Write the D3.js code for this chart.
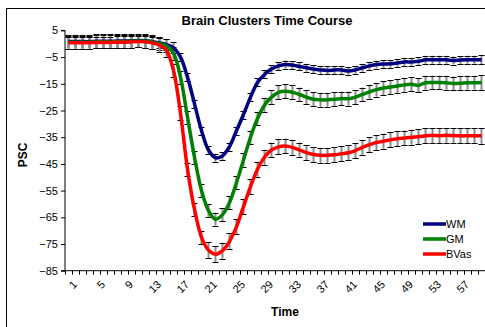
<!DOCTYPE html>
<html lang="en">
<head>
<meta charset="UTF-8">
<script src="https://d3js.org/d3.v7.min.js"></script>
<style>
    body { margin: 0; background: #fff; }
    text { font-family: Arial, "Liberation Sans", sans-serif; }
</style>
<title>Brain Clusters Time Course</title>
</head>
<body>
<div id="chart"></div>
<script>
// time points 1..60
var times = d3.range(1, 61);
var tickLabels = [1, 5, 9, 13, 17, 21, 25, 29, 33, 37, 41, 45, 49, 53, 57];
var yTicks = [5, -5, -15, -25, -35, -45, -55, -65, -75, -85];

var wm = [0.8, 0.8, 0.8, 0.8, 0.9, 0.9, 0.9, 1.0, 1.0, 1.1, 1.2, 1.1,
    0.8, 0.3, -0.3, -1.5, -5.0, -12.5, -22.5, -32.5, -39.8, -42.7, -42.0, -38.5,
    -32.5, -26.5, -20.0, -14.5, -11.5, -9.5, -8.3, -7.8, -8.0, -8.5, -9.0, -9.5,
    -9.8, -10.0, -9.8, -9.8, -10.2, -9.8, -9.0, -8.3, -7.8, -7.6, -7.5, -7.2,
    -6.8, -6.8, -6.6, -6.0, -6.0, -6.0, -6.0, -6.3, -6.1, -6.0, -6.0, -6.0];
var gm = [0.6, 0.6, 0.6, 0.6, 0.7, 0.7, 0.7, 0.8, 0.8, 0.9, 1.0, 0.9,
    0.6, 0.0, -0.8, -3.5, -12.5, -27.5, -42.5, -55.0, -62.5, -65.7, -64.0, -59.5,
    -52.0, -43.5, -35.0, -28.0, -23.0, -20.0, -18.2, -17.8, -18.2, -19.0, -20.0, -20.8,
    -21.0, -21.0, -20.8, -20.5, -20.6, -20.0, -19.0, -18.0, -17.2, -16.6, -16.2, -15.8,
    -15.4, -15.2, -15.6, -14.6, -14.5, -14.5, -14.6, -14.9, -14.8, -14.6, -14.6, -14.5];
var bvas = [0.4, 0.4, 0.4, 0.4, 0.5, 0.5, 0.5, 0.6, 0.6, 0.7, 0.8, 0.7,
    0.3, -0.5, -2.5, -10.0, -26.0, -47.0, -62.0, -72.5, -77.3, -78.8, -77.5, -74.0,
    -68.5, -61.0, -53.5, -47.0, -42.5, -39.8, -38.6, -38.3, -38.8, -39.8, -40.8, -41.5,
    -41.8, -41.8, -41.6, -41.2, -40.8, -40.0, -38.8, -37.8, -37.0, -36.5, -36.0, -35.6,
    -35.3, -35.0, -34.8, -34.5, -34.3, -34.5, -34.3, -34.4, -34.5, -34.5, -34.5, -34.5];

// standard errors
var wmErr = [2.6, 2.6, 2.6, 2.6, 2.6, 2.6, 2.6, 2.6, 2.6, 2.6, 2.6, 2.6,
    2.6, 2.0, 2.0, 2.0, 1.6, 1.6, 1.6, 1.5, 1.5, 1.5, 1.5, 1.5,
    1.5, 1.5, 1.5, 1.5, 1.5, 1.5, 1.5, 1.5, 1.5, 1.5, 1.5, 1.5,
    1.5, 1.5, 1.5, 1.5, 1.5, 1.5, 1.5, 1.5, 1.5, 1.5, 1.5, 1.5,
    1.5, 1.5, 1.5, 1.5, 1.5, 1.5, 1.5, 1.5, 1.5, 1.5, 1.5, 1.6];
var gmErr = [2.4, 2.4, 2.4, 2.4, 2.4, 2.4, 2.4, 2.4, 2.4, 2.4, 2.4, 2.4,
    2.4, 2.4, 2.4, 2.4, 2.4, 2.4, 2.4, 2.4, 2.4, 2.4, 2.4, 2.4,
    2.5, 2.5, 2.5, 2.5, 2.5, 2.6, 2.6, 2.6, 2.6, 2.6, 2.6, 2.6,
    2.6, 2.6, 2.6, 2.6, 2.6, 2.6, 2.6, 2.6, 2.6, 2.6, 2.6, 2.6,
    2.6, 2.6, 2.6, 2.6, 2.6, 2.6, 2.6, 2.6, 2.6, 2.6, 2.6, 2.8];
var bvasErr = [2.2, 2.2, 2.2, 2.2, 2.2, 2.2, 2.2, 2.2, 2.2, 2.2, 2.2, 2.2,
    2.2, 2.5, 2.5, 2.5, 2.5, 2.5, 2.5, 2.5, 3.0, 3.0, 3.0, 3.0,
    2.8, 2.8, 2.8, 2.8, 2.8, 2.8, 2.8, 2.8, 2.8, 2.8, 2.8, 2.8,
    2.8, 2.8, 2.8, 2.8, 2.8, 2.8, 2.8, 2.8, 2.8, 2.8, 2.8, 2.8,
    2.8, 2.8, 2.8, 2.8, 2.8, 2.8, 2.8, 2.8, 2.8, 2.8, 2.8, 3.0];

var series = [
    {name: "WM", values: wm, err: wmErr, color: "#000080"},
    {name: "GM", values: gm, err: gmErr, color: "#008000"},
    {name: "BVas", values: bvas, err: bvasErr, color: "#ff0000"}
];

var width = 485, height = 327;
var plot = {left: 65, right: 485, top: 30.4, bottom: 270.7};

var svg = d3.select("#chart").append("svg")
    .attr("width", width)
    .attr("height", height);

// outer chart border
svg.append("rect")
    .attr("x", 6.5).attr("y", 8.5)
    .attr("width", 600).attr("height", 400)
    .attr("fill", "#fff")
    .attr("stroke", "#000")
    .attr("stroke-width", 1);

var x = d3.scaleBand()
    .domain(times)
    .range([plot.left, plot.right]);

var y = d3.scaleLinear()
    .domain([-85, 5])
    .range([plot.bottom, plot.top]);

function cx(t) { return x(t) + x.bandwidth() / 2; }

// title
svg.append("text")
    .attr("x", 267).attr("y", 25)
    .attr("text-anchor", "middle")
    .style("font-size", "13px").style("font-weight", "bold")
    .text("Brain Clusters Time Course");

// y axis
var yAxis = svg.append("g")
    .attr("transform", "translate(" + plot.left + ",0)")
    .call(d3.axisLeft(y).tickValues(yTicks).tickSize(4).tickPadding(3).tickFormat(d3.format("d")));
yAxis.select(".domain").attr("d", "M-4," + y(5) + "H0V" + y(-85) + "H-4");
yAxis.selectAll("text").style("font-size", "11px").style("font-family", "Arial, 'Liberation Sans', sans-serif");

// x axis
var xAxis = svg.append("g")
    .attr("transform", "translate(0," + plot.bottom + ")");
xAxis.append("line")
    .attr("x1", plot.left).attr("x2", plot.right)
    .attr("stroke", "#000");
xAxis.selectAll(".xtick")
    .data(times)
    .enter().append("line")
    .attr("x1", function (d) { return x(d) + 0.5; })
    .attr("x2", function (d) { return x(d) + 0.5; })
    .attr("y1", 0).attr("y2", 4)
    .attr("stroke", "#000");
xAxis.selectAll(".xlabel")
    .data(tickLabels)
    .enter().append("text")
    .attr("transform", function (d) {
        return "translate(" + (cx(d) + 4) + ",9) rotate(-45)";
    })
    .attr("text-anchor", "end")
    .attr("dy", "0.7em")
    .style("font-size", "11px")
    .text(function (d) { return d; });

// axis titles
svg.append("text")
    .attr("transform", "translate(27,155) rotate(-90)")
    .attr("text-anchor", "middle")
    .style("font-size", "12px").style("font-weight", "bold")
    .text("PSC");
svg.append("text")
    .attr("x", 285).attr("y", 316)
    .attr("text-anchor", "middle")
    .style("font-size", "12px").style("font-weight", "bold")
    .text("Time");

// error bars
series.forEach(function (s) {
    var g = svg.append("g").attr("class", "err");
    var pts = times.map(function (t, i) { return {t: t, v: s.values[i], e: s.err[i]}; });
    g.selectAll(".stem").data(pts).enter().append("line")
        .attr("x1", function (d) { return cx(d.t); })
        .attr("x2", function (d) { return cx(d.t); })
        .attr("y1", function (d) { return y(d.v + d.e); })
        .attr("y2", function (d) { return y(d.v - d.e); })
        .attr("stroke", "#8c8c8c").attr("stroke-width", 2);
    [1, -1].forEach(function (sign) {
        g.selectAll(".cap" + sign).data(pts).enter().append("line")
            .attr("x1", function (d) { return cx(d.t) - 3; })
            .attr("x2", function (d) { return cx(d.t) + 3; })
            .attr("y1", function (d) { return Math.round(y(d.v + sign * d.e)) + 0.5; })
            .attr("y2", function (d) { return Math.round(y(d.v + sign * d.e)) + 0.5; })
            .attr("stroke", "#000").attr("stroke-width", 1);
    });
});

// lines
var line = d3.line()
    .x(function (d, i) { return cx(times[i]); })
    .y(function (d) { return y(d); })
    .curve(d3.curveCatmullRom.alpha(0.5));

series.forEach(function (s) {
    svg.append("path")
        .datum(s.values)
        .attr("d", line)
        .attr("fill", "none")
        .attr("stroke", s.color)
        .attr("stroke-width", 3.5)
        .attr("stroke-linejoin", "round");
});

// legend
var legend = svg.append("g");
series.forEach(function (s, i) {
    var ly = 224 + i * 15;
    legend.append("line")
        .attr("x1", 423).attr("x2", 446)
        .attr("y1", ly).attr("y2", ly)
        .attr("stroke", s.color).attr("stroke-width", 3.5);
    legend.append("text")
        .attr("x", 446).attr("y", ly)
        .attr("dy", "0.35em")
        .style("font-size", "11px")
        .text(s.name);
});
</script>
</body>
</html>
